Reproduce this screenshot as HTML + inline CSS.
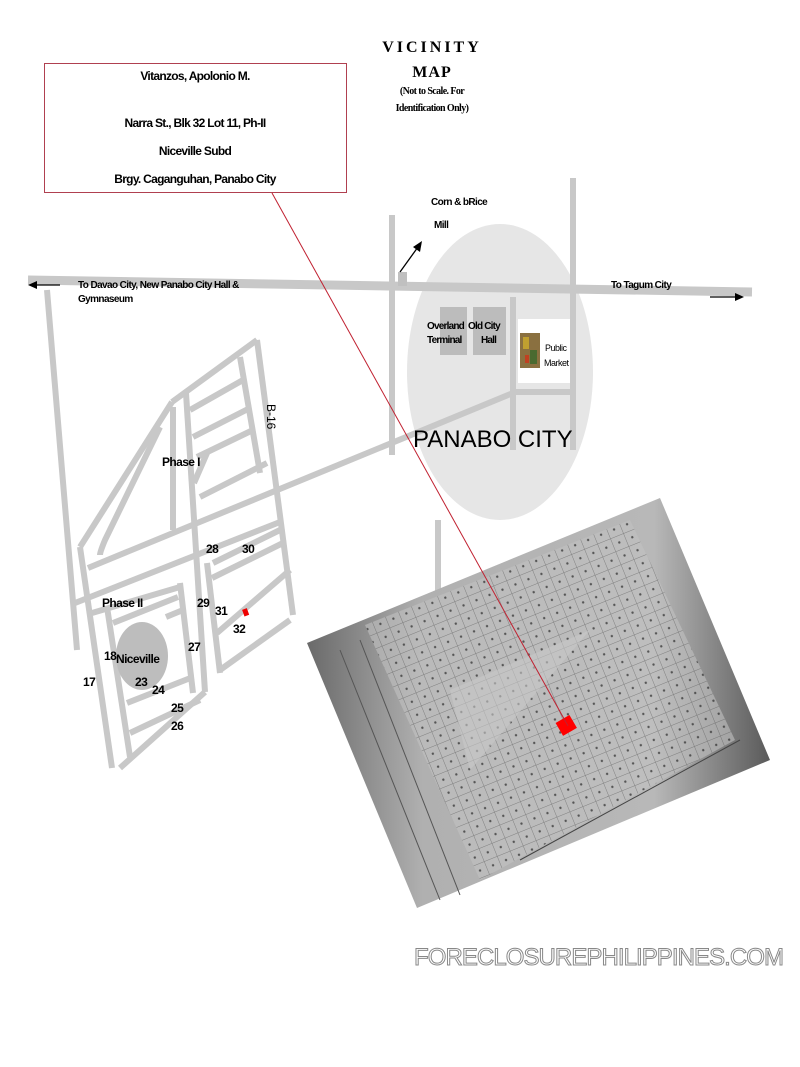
<!DOCTYPE html>
<html><head><meta charset="utf-8"><style>
html,body{margin:0;padding:0;background:#fff}
svg{display:block}
text{font-family:"Liberation Sans",Arial,sans-serif;font-weight:bold;fill:#000}
</style></head><body>
<svg width="800" height="1067" viewBox="0 0 800 1067" xmlns="http://www.w3.org/2000/svg">
<defs>
<pattern id="grid" width="14" height="14" patternUnits="userSpaceOnUse" patternTransform="rotate(-22)">
<rect width="14" height="14" fill="none"/>
<path d="M0 0H14M0 0V14" stroke="#4a4a4a" stroke-width="1" opacity="0.7"/>
<circle cx="7" cy="7" r="1.2" fill="#333"/>
</pattern>
<linearGradient id="pg" x1="0" y1="0" x2="1" y2="0">
<stop offset="0" stop-color="#6a6a6a"/><stop offset="0.25" stop-color="#b0b0b0"/><stop offset="0.75" stop-color="#b8b8b8"/><stop offset="1" stop-color="#5a5a5a"/>
</linearGradient>
</defs>

<ellipse cx="500" cy="372" rx="93" ry="148" fill="#e6e6e6"/>

<g stroke="#c8c8c8" stroke-width="6" fill="none" stroke-linecap="butt">
<line x1="28" y1="280" x2="752" y2="292" stroke-width="9"/>
<line x1="392" y1="215" x2="392" y2="455"/>
<line x1="573" y1="178" x2="573" y2="450"/>
<line x1="513" y1="297" x2="513" y2="450"/>
<line x1="513" y1="392" x2="573" y2="392"/>
<line x1="438" y1="520" x2="438" y2="615"/>
<line x1="513" y1="393" x2="88" y2="568"/>
<line x1="75" y1="603" x2="280" y2="522"/>
<line x1="47" y1="290" x2="77" y2="650"/>
<line x1="257" y1="340" x2="172" y2="402"/>
<line x1="172" y1="402" x2="80" y2="547"/>
<line x1="80" y1="547" x2="112" y2="768"/>
<line x1="257" y1="340" x2="293" y2="615"/>
<line x1="240" y1="357" x2="260" y2="473"/>
<line x1="186" y1="393" x2="205" y2="692"/>
<line x1="173" y1="407" x2="173" y2="530"/>
<path d="M160 427 L105 540 Q100 552 100 555"/>
<line x1="190" y1="410" x2="243" y2="380"/>
<line x1="193" y1="437" x2="250" y2="408"/>
<line x1="197" y1="457" x2="253" y2="430"/>
<line x1="200" y1="497" x2="267" y2="463"/>
<line x1="194" y1="483" x2="207" y2="453"/>
<line x1="212" y1="578" x2="283" y2="543"/>
<line x1="213" y1="563" x2="280" y2="530"/>
<line x1="217" y1="633" x2="290" y2="570"/>
<line x1="220" y1="670" x2="290" y2="620"/>
<line x1="120" y1="768" x2="205" y2="692"/>
<line x1="207" y1="563" x2="220" y2="673"/>
<line x1="180" y1="583" x2="193" y2="693"/>
<line x1="92" y1="613" x2="180" y2="587"/>
<line x1="107" y1="607" x2="130" y2="757"/>
<line x1="113" y1="623" x2="178" y2="597"/>
<line x1="127" y1="703" x2="193" y2="677"/>
<line x1="130" y1="733" x2="200" y2="700"/>
<line x1="166" y1="617" x2="183" y2="610"/>
</g>

<ellipse cx="142" cy="656" rx="26" ry="34" fill="#bdbdbd"/>

<rect x="440" y="307" width="27" height="48" fill="#bcbcbc"/>
<rect x="473" y="307" width="33" height="48" fill="#bcbcbc"/>
<rect x="398" y="272" width="9" height="14" fill="#c0c0c0"/>
<text x="427" y="329" font-size="10" letter-spacing="-0.8">Overland</text>
<text x="427" y="343" font-size="10" letter-spacing="-0.8">Terminal</text>
<text x="468" y="329" font-size="10" letter-spacing="-0.8">Old City</text>
<text x="481" y="343" font-size="10" letter-spacing="-0.8">Hall</text>
<rect x="518" y="319" width="52" height="64" fill="#fff"/>
<rect x="520" y="333" width="20" height="35" fill="#8a7040"/>
<rect x="523" y="337" width="6" height="12" fill="#c0a030"/>
<rect x="530" y="350" width="7" height="14" fill="#4a6a30"/>
<rect x="525" y="355" width="4" height="8" fill="#c04020"/>
<text x="545" y="351" font-size="9" style="font-weight:normal" fill="#333" letter-spacing="-0.5">Public</text>
<text x="544" y="366" font-size="9" style="font-weight:normal" fill="#333" letter-spacing="-0.5">Market</text>

<text x="413" y="447" font-size="24" style="font-weight:normal" fill="#111">PANABO CITY</text>

<line x1="400" y1="272" x2="418" y2="247" stroke="#000" stroke-width="1.3"/>
<polygon points="422,241 420,252 413,247" fill="#000"/>
<line x1="36" y1="285" x2="60" y2="285" stroke="#000" stroke-width="1.3"/>
<polygon points="28,285 37,281 37,289" fill="#000"/>
<line x1="710" y1="297" x2="736" y2="297" stroke="#000" stroke-width="1.3"/>
<polygon points="744,297 735,293 735,301" fill="#000"/>

<text x="432" y="52" font-size="16" text-anchor="middle" style="font-family:'Liberation Serif',serif" letter-spacing="3">VICINITY</text>
<text x="432" y="77" font-size="16" text-anchor="middle" style="font-family:'Liberation Serif',serif" letter-spacing="1">MAP</text>
<text x="432" y="94" font-size="10" text-anchor="middle" style="font-family:'Liberation Serif',serif" letter-spacing="-0.6">(Not to Scale. For</text>
<text x="432" y="111" font-size="10" text-anchor="middle" style="font-family:'Liberation Serif',serif" letter-spacing="-0.6">Identification Only)</text>

<rect x="44.5" y="63.5" width="302" height="129" fill="#fff" stroke="#b04050" stroke-width="1"/>
<g font-size="12" text-anchor="middle" letter-spacing="-0.7">
<text x="195" y="80">Vitanzos, Apolonio M.</text>
<text x="195" y="127">Narra St., Blk 32 Lot 11, Ph-II</text>
<text x="195" y="155">Niceville Subd</text>
<text x="195" y="183">Brgy. Caganguhan, Panabo City</text>
</g>

<g font-size="10" letter-spacing="-0.6">
<text x="431" y="205">Corn &amp; bRice</text>
<text x="434" y="228">Mill</text>
<text x="78" y="288">To Davao City, New Panabo City Hall &amp;</text>
<text x="78" y="302">Gymnaseum</text>
<text x="611" y="288">To Tagum City</text>
</g>

<g font-size="12" letter-spacing="-0.6">
<text x="162" y="466">Phase I</text>
<text x="102" y="607">Phase II</text>
<text x="206" y="553">28</text>
<text x="242" y="553">30</text>
<text x="197" y="607">29</text>
<text x="215" y="615">31</text>
<text x="233" y="633">32</text>
<text x="188" y="651">27</text>
<text x="104" y="660">18</text>
<text x="116" y="663">Niceville</text>
<text x="83" y="686">17</text>
<text x="135" y="686">23</text>
<text x="152" y="694">24</text>
<text x="171" y="712">25</text>
<text x="171" y="730">26</text>
</g>
<text x="0" y="0" font-size="12" style="font-weight:normal" transform="translate(267,404) rotate(90)">B-16</text>
<rect x="243" y="609" width="5" height="7" fill="#e00" transform="rotate(-20 245 612)"/>

<!-- photo -->
<polygon points="307,643 660,498 770,760 417,908" fill="url(#pg)"/>
<polygon points="365,625 630,520 735,740 480,880" fill="#c2c2c2" opacity="0.6"/>
<polygon points="365,625 630,520 735,740 480,880" fill="url(#grid)" opacity="0.75"/>
<polygon points="450,690 590,630 470,770" fill="#c8c8c8" opacity="0.6"/>
<line x1="340" y1="650" x2="440" y2="900" stroke="#555" stroke-width="1"/>
<line x1="360" y1="640" x2="460" y2="895" stroke="#555" stroke-width="1"/>
<line x1="520" y1="860" x2="740" y2="740" stroke="#444" stroke-width="1"/>
<rect x="558" y="718" width="16" height="15" fill="#f00" transform="rotate(-30 566 725)"/>

<line x1="272" y1="193" x2="568" y2="726" stroke="#c02030" stroke-width="1"/>

<text x="414" y="965" font-size="24" style="font-weight:normal;fill:#fff;stroke:#888;stroke-width:1" textLength="370" lengthAdjust="spacing">FORECLOSUREPHILIPPINES.COM</text>
</svg>
</body></html>
